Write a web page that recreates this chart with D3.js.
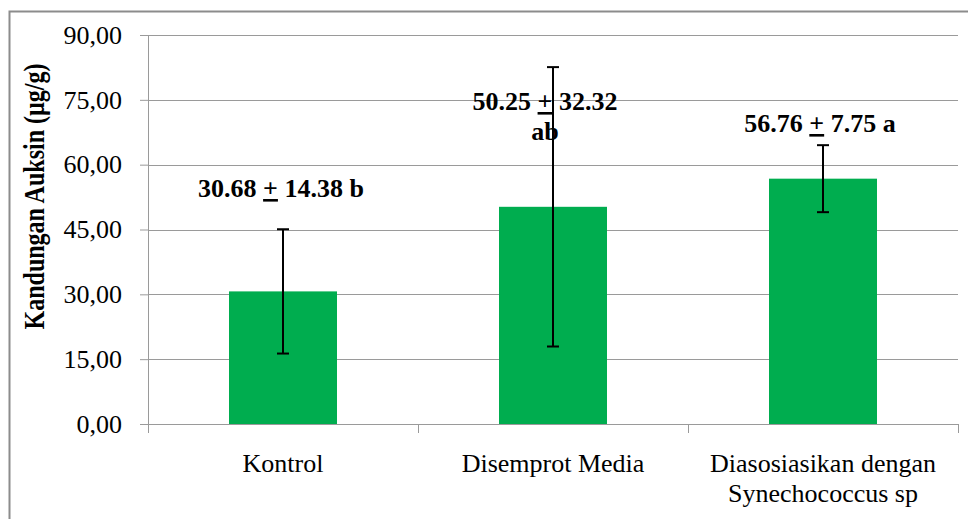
<!DOCTYPE html>
<html><head><meta charset="utf-8">
<script src="https://cdn.jsdelivr.net/npm/d3@7"></script>
<style>body{margin:0;background:#fff}svg{display:block}
svg text{font-family:"Liberation Serif","Times New Roman","DejaVu Serif",serif}</style>
</head><body>
<script>
const categories = [["Kontrol"], ["Disemprot Media"], ["Diasosiasikan dengan", "Synechococcus sp"]];
const means = [30.68, 50.25, 56.76];
const sds = [14.38, 32.32, 7.75];
const letters = ["b", "ab", "a"];
const yTicks = [0, 15, 30, 45, 60, 75, 90];
const yTitle = "Kandungan Auksin (µg/g)";

(function () {
const W = 968, H = 519;
const svg = d3.select("body").append("svg").attr("width", W).attr("height", H);
svg.append("rect").attr("x", 9.5).attr("y", 11.5).attr("width", 1000).attr("height", 600)
  .attr("fill", "#fff").attr("stroke", "#8c8c8c").attr("stroke-width", 2);

const pL = 148, pR = 958, pT = 35, pB = 424;
const x = d3.scaleBand().domain(d3.range(categories.length)).range([pL, pR]).paddingInner(0.6).paddingOuter(0.3);
const xb = d3.scaleBand().domain(d3.range(categories.length)).range([pL, pR]);
const y = d3.scaleLinear().domain([0, 90]).range([pB, pT]);

// gridlines
svg.append("g").selectAll("line").data(yTicks.filter(d => d > 0)).join("line")
  .attr("x1", pL).attr("x2", pR).attr("y1", d => Math.round(y(d)) + 0.5).attr("y2", d => Math.round(y(d)) + 0.5)
  .attr("stroke", "#9a9a9a").attr("stroke-width", 1);

// y axis
const ya = svg.append("g").attr("transform", `translate(${pL},0)`)
  .call(d3.axisLeft(y).tickValues(yTicks).tickSize(8).tickPadding(18).tickFormat(d => d3.format(".2f")(d).replace(".", ",")));
ya.attr("font-family", null);
ya.select(".domain").attr("stroke", "#9a9a9a");
ya.selectAll(".tick line").attr("stroke", "#9a9a9a");
ya.selectAll("text").attr("font-size", 26).attr("fill", "#000");

// x axis
const xa = svg.append("g").attr("transform", `translate(0,${pB})`);
xa.append("line").attr("x1", pL).attr("x2", pR).attr("y1", 0.5).attr("y2", 0.5).attr("stroke", "#9a9a9a");
const bounds = d3.range(categories.length + 1).map(i => i < categories.length ? xb(i) : xb(i - 1) + xb.bandwidth());
xa.selectAll(".tk").data(bounds).join("line").attr("class", "tk")
  .attr("x1", d => Math.round(d) + 0.5).attr("x2", d => Math.round(d) + 0.5).attr("y1", 0).attr("y2", 9).attr("stroke", "#9a9a9a");
categories.forEach((lines, i) => {
  const t = xa.append("text").attr("x", x(i) + x.bandwidth() / 2).attr("y", 48)
    .attr("text-anchor", "middle").attr("font-size", 26).attr("fill", "#000");
  lines.forEach((l, j) => t.append("tspan").attr("x", x(i) + x.bandwidth() / 2).attr("dy", j === 0 ? 0 : 30).text(l));
});

// bars
svg.append("g").selectAll("rect").data(means).join("rect")
  .attr("x", (d, i) => x(i)).attr("width", x.bandwidth())
  .attr("y", d => y(d)).attr("height", d => y(0) - y(d)).attr("fill", "#00ad4f");

// error bars
const eb = svg.append("g").attr("stroke", "#000").attr("stroke-width", 2);
means.forEach((m, i) => {
  const cx = x(i) + x.bandwidth() / 2;
  eb.append("line").attr("x1", cx).attr("x2", cx).attr("y1", y(m + sds[i])).attr("y2", y(m - sds[i]));
  [m + sds[i], m - sds[i]].forEach(v => eb.append("line").attr("x1", cx - 6).attr("x2", cx + 6).attr("y1", y(v)).attr("y2", y(v)));
});

// annotations
const annY = [[197], [110, 140], [132]];
const annDx = [-2, -8, -3];
means.forEach((m, i) => {
  const cx = x(i) + x.bandwidth() / 2 + annDx[i];
  const g = svg.append("text").attr("x", cx).attr("y", annY[i][0]).attr("text-anchor", "middle")
    .attr("font-weight", "bold").attr("font-size", 26).attr("fill", "#000");
  g.append("tspan").text(m.toFixed(2) + " ");
  g.append("tspan").attr("text-decoration", "underline").text("+");
  g.append("tspan").text(" " + sds[i].toFixed(2) + (annY[i].length === 1 ? " " + letters[i] : ""));
  if (annY[i].length > 1) {
    svg.append("text").attr("x", cx).attr("y", annY[i][1]).attr("text-anchor", "middle")
      .attr("font-weight", "bold").attr("font-size", 26).attr("fill", "#000").text(letters[i]);
  }
});

// y title
svg.append("text").attr("transform", `translate(44,196.5) rotate(-90) scale(0.8,1)`)
  .attr("text-anchor", "middle").attr("font-weight", "bold")
  .attr("font-size", 30).attr("fill", "#000").text(yTitle);
})();
</script>
</body></html>
